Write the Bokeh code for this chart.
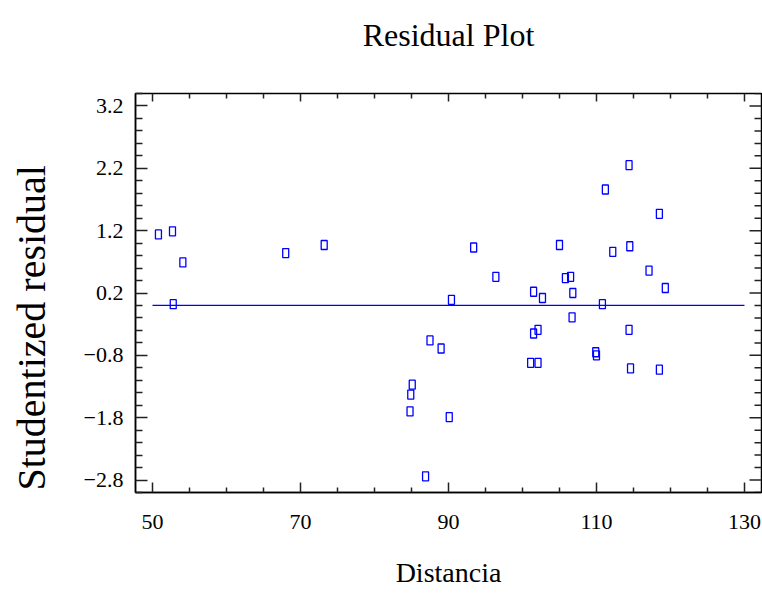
import math
from bokeh.plotting import figure
from bokeh.models import FixedTicker, Range1d, Title
from bokeh.embed import file_html
from bokeh.resources import INLINE

# Data
distancia = [50.8, 52.7, 54.1, 52.8, 68.0, 73.2, 114.4, 111.2, 93.4, 105.0,
             112.2, 114.5, 96.4, 105.8, 106.5, 101.5, 102.7, 106.8, 90.4, 110.8,
             106.7, 102.1, 101.5, 114.4, 87.5, 89.0, 109.9, 110.0, 101.1, 102.1,
             114.6, 85.1, 84.9, 84.8, 90.1, 86.9, 118.5, 117.1, 119.3, 118.5]
residual = [1.14, 1.19, 0.69, 0.02, 0.84, 0.97, 2.25, 1.86, 0.93, 0.97,
            0.86, 0.95, 0.46, 0.44, 0.46, 0.22, 0.12, 0.20, 0.09, 0.02,
            -0.19, -0.39, -0.45, -0.39, -0.56, -0.69, -0.75, -0.80, -0.92, -0.92,
            -1.01, -1.27, -1.43, -1.70, -1.79, -2.74, 1.47, 0.56, 0.28, -1.03]

zero_line_x = [50, 130]
zero_line_y = [0, 0]

X_START, X_END = 47.7, 132.3
Y_START, Y_END = -3.0, 3.4

x_ticks = [50, 70, 90, 110, 130]
x_minor = [55, 60, 65, 75, 80, 85, 95, 100, 105, 115, 120, 125]
y_ticks = [-2.8, -1.8, -0.8, 0.2, 1.2, 2.2, 3.2]
y_minor = [v for v in (round(-3.0 + 0.2 * i, 1) for i in range(33)) if v not in y_ticks]

FONT = "Liberation Serif"
BLUE = "#0000FF"
INK = "#222222"

p = figure(width=762, height=597, output_backend="svg", toolbar_location=None,
           x_range=Range1d(X_START, X_END), y_range=Range1d(Y_START, Y_END),
           x_axis_label="Distancia",
           min_border_left=135, min_border_right=1, min_border_top=93,
           min_border_bottom=105)

p.grid.visible = False
p.background_fill_color = "white"
p.border_fill_color = "white"
p.outline_line_color = "black"
p.outline_line_width = 1.5

def style_axis(ax, major_in, minor_in):
    ax.axis_line_color = "black"
    ax.axis_line_width = 1.5
    ax.major_tick_in = major_in
    ax.major_tick_out = 0
    ax.minor_tick_in = minor_in
    ax.minor_tick_out = 0
    ax.major_tick_line_color = INK
    ax.minor_tick_line_color = INK
    ax.major_tick_line_width = 1.5
    ax.minor_tick_line_width = 1.5
    ax.major_label_text_font = FONT
    ax.major_label_text_font_size = "22px"
    ax.major_label_text_color = "black"
    ax.axis_label_text_font = FONT
    ax.axis_label_text_font_style = "normal"
    ax.axis_label_text_color = "black"

xa = p.xaxis[0]
xa.ticker = FixedTicker(ticks=x_ticks, minor_ticks=x_minor)
style_axis(xa, 10, 5)
xa.major_label_standoff = 22
xa.axis_label_text_font_size = "28px"
xa.axis_label_standoff = 25

ya = p.yaxis[0]
ya.ticker = FixedTicker(ticks=y_ticks, minor_ticks=y_minor)
style_axis(ya, 12, 7)
ya.major_label_standoff = 12

# chart title
main_title = Title(text="Residual Plot", align="center", standoff=0,
                   text_font=FONT, text_font_size="32px", text_font_style="normal",
                   text_color="black")
try:
    main_title.padding = dict(left=0, right=0, top=0, bottom=41)
except Exception:
    main_title.standoff = 56
p.add_layout(main_title, "above")

# y-axis title, starting near the bottom of the frame as in the reference
y_title = Title(text="Studentized residual", align="left", offset=2,
                text_font=FONT, text_font_size="40px", text_font_style="normal",
                text_color="black", standoff=10)
try:
    y_title.padding = dict(left=0, right=0, top=0, bottom=22)
except Exception:
    y_title.standoff = 40
p.add_layout(y_title, "left")

# mirrored tick marks on the right and top edges of the frame
p.ray(x=[X_END] * len(y_ticks), y=y_ticks, length=12, length_units="screen",
      angle=math.pi, line_color=INK, line_width=1.5)
p.ray(x=[X_END] * len(y_minor), y=y_minor, length=7, length_units="screen",
      angle=math.pi, line_color=INK, line_width=1.5)
p.ray(x=x_ticks, y=[Y_END] * len(x_ticks), length=8, length_units="screen",
      angle=-math.pi / 2, line_color=INK, line_width=1.5)
p.ray(x=x_minor, y=[Y_END] * len(x_minor), length=5, length_units="screen",
      angle=-math.pi / 2, line_color=INK, line_width=1.5)

# zero reference line
p.line(zero_line_x, zero_line_y, line_color=BLUE, line_width=1.2)

# residual points
p.rect(x=distancia, y=residual, width=6, height=9,
       width_units="screen", height_units="screen",
       fill_color=None, line_color=BLUE, line_width=1.3)

open("out.html", "w").write(file_html(p, INLINE))
